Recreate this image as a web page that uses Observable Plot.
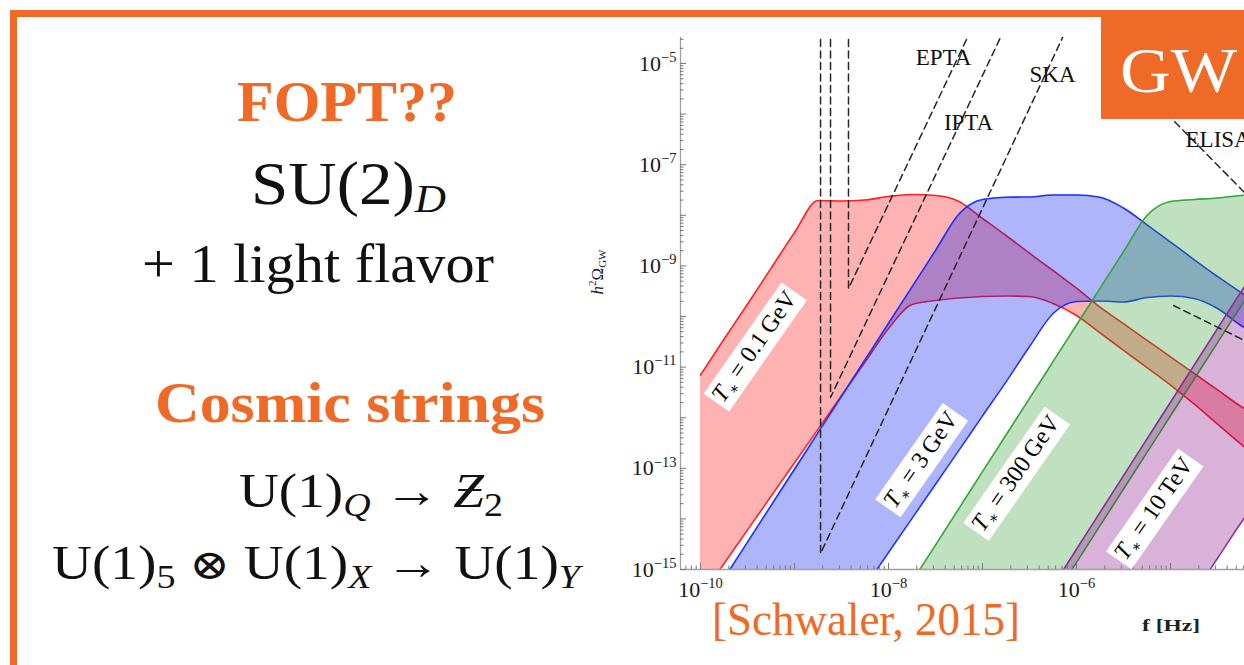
<!DOCTYPE html>
<html><head><meta charset="utf-8">
<script src="https://cdn.jsdelivr.net/npm/d3@7"></script>
<script src="https://cdn.jsdelivr.net/npm/@observablehq/plot@0.6"></script>
<style>
html,body{margin:0;padding:0;background:#fff;}
#page{position:relative;width:1244px;height:665px;overflow:hidden;background:#fff;}
#page svg{position:absolute;left:0;top:0;}
#deco text, #deco tspan{font-family:"Liberation Serif","DejaVu Serif",serif;}
#deco tspan.op{font-family:"DejaVu Sans ExtraLight","DejaVu Sans","DejaVu Serif",serif;font-weight:200;}
</style></head><body><div id="page"></div>
<script>
// ---------- data (log10 values) ----------
// common frequency grid, log10(f / Hz)
const gridLogF = [-10, -9.75, -9.5, -9.25, -9, -8.75, -8.5, -8.25, -8, -7.75, -7.5, -7.25, -7,
  -6.75, -6.5, -6.25, -6, -5.75, -5.5, -5.25, -5, -4.75, -4.5, -4.25, -4.2];
// log10(h^2 Omega_GW) bounds of each band (-16 = below the plotted range)
const redUpper = [-11.156, -10.449, -9.757, -9.049, -8.342, -7.708, -7.717, -7.698, -7.628, -7.589, -7.609, -7.727, -8.063,
  -8.399, -8.749, -9.091, -9.439, -9.816, -10.142, -10.470, -10.796, -11.125, -11.451, -11.779, -11.838];
const redLower = [-15.553, -14.881, -14.217, -13.553, -12.889, -12.225, -11.561, -10.899, -10.237, -9.763, -9.684, -9.634, -9.605,
  -9.595, -9.605, -9.743, -9.980, -10.324, -10.668, -11.012, -11.356, -11.729, -12.126, -12.524, -12.601];
const blueUpper = [-15.901, -15.178, -14.459, -13.737, -13.018, -12.296, -11.577, -10.856, -10.134, -9.415, -8.694, -7.974, -7.688,
  -7.642, -7.638, -7.599, -7.599, -7.642, -7.856, -8.188, -8.528, -8.874, -9.209, -9.526, -9.585];
const blueLower = [-16, -16, -16, -16, -16, -16, -16, -15.336, -14.664, -13.990, -13.314, -12.640, -11.964,
  -11.291, -10.593, -9.941, -9.704, -9.694, -9.713, -9.625, -9.595, -9.644, -9.842, -10.178, -10.237];
const greenUpper = [-16, -16, -16, -16, -16, -16, -16, -16, -16, -15.243, -14.518, -13.792, -13.067,
  -12.342, -11.619, -10.893, -10.168, -9.443, -8.719, -8.004, -7.727, -7.688, -7.658, -7.609, -7.599];
const greenLower = [-16.3, -16.3, -16.3, -16.3, -16.3, -16.3, -16.3, -16.3, -16.3, -16.3, -16.3, -16.3, -16.3,
  -16.3, -16.3, -15.581, -14.858, -14.134, -13.409, -12.686, -11.962, -11.239, -10.516, -9.793, -9.654];
const purpleUpper = [-16, -16, -16, -16, -16, -16, -16, -16, -16, -16, -16, -16, -16,
  -16, -16, -15.324, -14.599, -13.872, -13.146, -12.419, -11.694, -10.966, -10.239, -9.514, -9.374];
const purpleLower = [-16.2, -16.2, -16.2, -16.2, -16.2, -16.2, -16.2, -16.2, -16.2, -16.2, -16.2, -16.2, -16.2,
  -16.2, -16.2, -16.2, -16.2, -16.2, -16.2, -16.2, -16.2, -15.478, -14.777, -14.077, -13.943];

const bandNames = ["T* = 0.1\u2009GeV", "T* = 3\u2009GeV", "T* = 300\u2009GeV", "T* = 10\u2009TeV"];
const bandFills = ["#ff0000", "#0a1ef0", "#2e9b2e", "#800080"];
const bandStrokes = ["#ff2020", "#1e30ff", "#34a834", "#8e2ca0"];
const bandLabelLogF = [-9.43, -7.66, -6.649, -5.18];
const bandLabelLogO = [-10.593, -12.83, -13.10, -13.794];

// dashed sensitivity curves (log10 f, log10 h^2 Omega)
const detNames = ["SKA", "IPTA", "EPTA", "ELISA", "other"];
const detLogF = [[-8.723, -8.723, -6.101], [-8.617, -8.617, -6.762], [-8.426, -8.426, -7.113], [-5.213, -4.15], [-4.968, -4.15]];
const detLogO = [[-4.3, -14.684, -4.3], [-4.3, -11.601, -4.3], [-4.3, -9.447, -4.3], [-5.666, -7.668], [-9.783, -10.532]];
const detLabels = ["EPTA", "IPTA", "SKA", "ELISA"];
const detLabelLogF = [-7.415, -7.149, -6.255, -4.84];
const detLabelLogO = [-4.881, -6.166, -5.217, -6.502];
const detLabelAnchor = ["middle", "middle", "middle", "start"];

// axes
const xDomainLog = [-10.213, -4.213];
const yDomainLog = [-15, -4.486];
const xTickExps = [-10, -8, -6, -4];
const yTickExps = [-15, -13, -11, -9, -7, -5];

// ---------- build ----------
const xMin = 10 ** xDomainLog[0], xMax = 10 ** xDomainLog[1];
const yMin = 10 ** yDomainLog[0], yMax = 10 ** yDomainLog[1];
const inX = v => v >= xMin * 0.9999 && v <= xMax;
const inY = v => v >= yMin * 0.9999 && v <= yMax;
const xMajor = xTickExps.map(e => 10 ** e).filter(inX);
const yMajor = yTickExps.map(e => 10 ** e).filter(inY);
const xDec = d3.range(-11, -3).map(e => 10 ** e).filter(inX);
const yDec = d3.range(-16, -3).map(e => 10 ** e).filter(inY);
const xMin2 = d3.range(-11, -3).flatMap(e => d3.range(2, 10).map(k => k * 10 ** e)).filter(inX);
const yMin2 = d3.range(-16, -3).flatMap(e => d3.range(2, 10).map(k => k * 10 ** e)).filter(inY);

const uppers = [redUpper, blueUpper, greenUpper, purpleUpper];
const lowers = [redLower, blueLower, greenLower, purpleLower];
const bandMarks = [];
uppers.forEach((up, b) => {
  const rows = gridLogF.map((lf, i) => ({f: 10 ** lf, hi: 10 ** up[i], lo: 10 ** lowers[b][i]}));
  bandMarks.push(
    Plot.areaY(rows, {x: "f", y1: "lo", y2: "hi", fill: bandFills[b], fillOpacity: b === 1 ? 0.33 : 0.3, curve: "monotone-x", clip: true}),
    Plot.lineY(rows, {x: "f", y: "hi", stroke: bandStrokes[b], strokeWidth: 1.6, curve: "monotone-x", clip: true}),
    Plot.lineY(rows, {x: "f", y: "lo", stroke: bandStrokes[b], strokeWidth: 1.6, curve: "monotone-x", clip: true})
  );
});
const detRows = detNames.flatMap((n, k) => detLogF[k].map((lf, i) => ({name: n, f: 10 ** lf, o: 10 ** detLogO[k][i]})));
const bandLabelRows = bandNames.map((t, i) => ({t, f: 10 ** bandLabelLogF[i], o: 10 ** bandLabelLogO[i]}));
const detLabelRows = detLabels.map((t, i) => ({t, f: 10 ** detLabelLogF[i], o: 10 ** detLabelLogO[i], a: detLabelAnchor[i]}));

const FONT = "Liberation Serif, DejaVu Serif, serif";
const expFmt = d => "10^" + Math.round(Math.log10(d));

const chart = Plot.plot({
  width: 1244, height: 665,
  marginLeft: 680, marginRight: 0, marginTop: 37, marginBottom: 96,
  style: {fontFamily: FONT, background: "white"},
  x: {type: "log", domain: [xMin, xMax]},
  y: {type: "log", domain: [yMin, yMax]},
  marks: [
    ...bandMarks,
    Plot.line(detRows, {x: "f", y: "o", z: "name", stroke: "#262626", strokeWidth: 1.5, strokeDasharray: "7,4.5", clip: true}),
    Plot.ruleX([xMin], {stroke: "#a0a0a0", strokeWidth: 1.3}),
    Plot.ruleY([yMin], {stroke: "#a0a0a0", strokeWidth: 1.3}),
    Plot.axisX({ticks: xMin2, tickSize: 3.5, dy: -3.5, tickFormat: () => "", label: null, stroke: "#777"}),
    Plot.axisX({ticks: xDec, tickSize: 6, dy: -6, tickFormat: () => "", label: null, stroke: "#777"}),
    Plot.axisX({ticks: xMajor, tickSize: 0, tickPadding: 12, tickFormat: expFmt, label: null, fontSize: 22, fill: "#1a1a1a"}),
    Plot.axisY({ticks: yMin2, tickSize: 3.5, dx: 3.5, tickFormat: () => "", label: null, stroke: "#777"}),
    Plot.axisY({ticks: yDec, tickSize: 6, dx: 6, tickFormat: () => "", label: null, stroke: "#777"}),
    Plot.axisY({ticks: yMajor, tickSize: 0, tickPadding: 4, tickFormat: expFmt, label: null, fontSize: 22, fill: "#1a1a1a"}),
    Plot.text(detLabelRows, {x: "f", y: "o", text: "t", textAnchor: "start", fontSize: 23, fontFamily: FONT, fill: "#111", filter: d => d.a === "start"}),
    Plot.text(detLabelRows, {x: "f", y: "o", text: "t", textAnchor: "middle", fontSize: 23, fontFamily: FONT, fill: "#111", filter: d => d.a === "middle"}),
    Plot.text(bandLabelRows, {x: "f", y: "o", text: "t", rotate: -55, fontSize: 24, fontFamily: FONT, fill: "#000"})
  ]
});
const page = document.getElementById("page");
page.appendChild(chart);

const ns = "http://www.w3.org/2000/svg";
function tspan(txt, attrs) {
  const s = document.createElementNS(ns, "tspan");
  s.textContent = txt;
  for (const k in attrs) s.setAttribute(k, attrs[k]);
  return s;
}
chart.querySelectorAll("text").forEach(t => {
  const s = t.textContent;
  const m = /^10\^(-?\d+)$/.exec(s);
  if (m) {
    t.textContent = "";
    t.append(tspan("10", {}), tspan(m[1].replace("-", "\u2212"), {"font-size": "0.66em", dy: "-0.6em"}));
    return;
  }
  if (s.startsWith("T* ")) {
    t.textContent = "";
    t.append(tspan("T", {"font-style": "italic"}), tspan("\u2217", {"font-size": "0.62em", dy: "5"}), tspan(s.slice(2), {dy: "-5"}));
    const bb = t.getBBox();
    const r = document.createElementNS(ns, "rect");
    r.setAttribute("x", bb.x - 3); r.setAttribute("y", bb.y - 1);
    r.setAttribute("width", bb.width + 6); r.setAttribute("height", bb.height + 2);
    r.setAttribute("fill", "#fff");
    const tr = t.getAttribute("transform");
    if (tr) r.setAttribute("transform", tr);
    t.parentNode.insertBefore(r, t);
  }
});

// ---------- slide decoration and text ----------
const ORANGE = "#EE6A26";
page.insertAdjacentHTML("beforeend", `
<svg id="deco" xmlns="${ns}" width="1244" height="665" style="pointer-events:none">
<rect x="10" y="10" width="1234" height="7" fill="${ORANGE}"/>
<rect x="10" y="10" width="7" height="655" fill="${ORANGE}"/>
<rect x="1101" y="10" width="143" height="109" fill="${ORANGE}"/>
<text x="1120" y="92" font-size="64" fill="#fff" textLength="117" lengthAdjust="spacingAndGlyphs">GW</text>
<text x="237" y="121" font-size="56" font-weight="bold" fill="${ORANGE}" textLength="220" lengthAdjust="spacingAndGlyphs">FOPT??</text>
<text x="251" y="204" font-size="62" fill="#111" textLength="195" lengthAdjust="spacingAndGlyphs">SU(2)<tspan font-size="40" font-style="italic" dy="8">D</tspan></text>
<text x="142" y="282" font-size="54" fill="#111" textLength="352" lengthAdjust="spacingAndGlyphs">+ 1 light flavor</text>
<text x="155" y="422" font-size="56" font-weight="bold" fill="${ORANGE}" textLength="390" lengthAdjust="spacingAndGlyphs">Cosmic strings</text>
<text x="239" y="507" font-size="48" fill="#111" textLength="264" lengthAdjust="spacingAndGlyphs">U(1)<tspan font-size="33" font-style="italic" dy="9">Q</tspan><tspan dy="-9"> \u2192 </tspan><tspan font-style="italic">\u01B5</tspan><tspan font-size="33" dy="9">2</tspan></text>
<text x="52" y="579" font-size="48" fill="#111" textLength="528" lengthAdjust="spacingAndGlyphs">U(1)<tspan font-size="33" dy="9">5</tspan><tspan dy="-9"> </tspan><tspan class="op" font-size="42">\u2297</tspan><tspan> U(1)</tspan><tspan font-size="33" font-style="italic" dy="9">X</tspan><tspan dy="-9"> \u2192 U(1)</tspan><tspan font-size="33" font-style="italic" dy="9">Y</tspan></text>
<text x="712" y="635" font-size="46" fill="${ORANGE}" textLength="308" lengthAdjust="spacingAndGlyphs">[Schwaler, 2015]</text>
<text x="1142" y="631" font-size="17" font-weight="bold" fill="#222" textLength="58" lengthAdjust="spacingAndGlyphs">f [Hz]</text>
<text transform="translate(603,272) rotate(-90)" text-anchor="middle" font-size="17" fill="#222"><tspan font-style="italic">h</tspan><tspan font-size="11" dy="-7">2</tspan><tspan dy="7">\u03A9</tspan><tspan font-size="11" dy="3">GW</tspan></text>
</svg>`);
</script></body></html>
